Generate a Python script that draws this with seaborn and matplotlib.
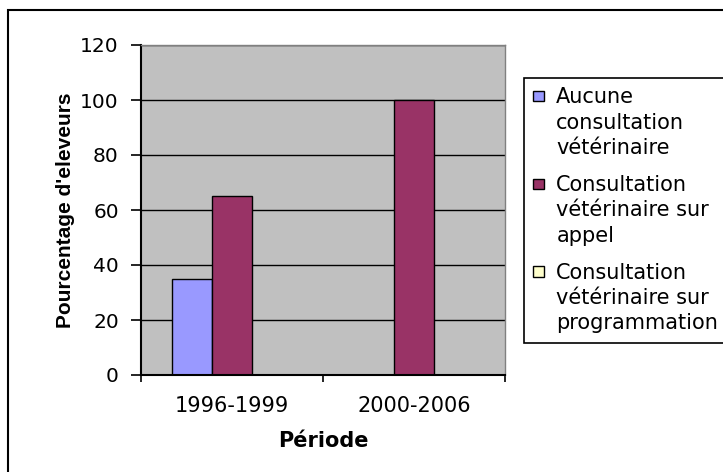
import pandas as pd
import matplotlib
matplotlib.use("Agg")
import matplotlib.pyplot as plt
import seaborn as sns
from matplotlib.patches import Rectangle
from matplotlib.legend_handler import HandlerPatch

# data
periodes = ["1996-1999", "2000-2006"]
aucune = [35, 0]
sur_appel = [65, 100]
sur_programmation = [0, 0]
series = ["Aucune consultation vétérinaire",
          "Consultation vétérinaire sur appel",
          "Consultation vétérinaire sur programmation"]
legend_labels = ["Aucune\nconsultation\nvétérinaire",
                 "Consultation\nvétérinaire sur\nappel",
                 "Consultation\nvétérinaire sur\nprogrammation"]
colors = ["#9999FF", "#993366", "#FFFFCC"]

df = pd.DataFrame({
    "Période": periodes * 3,
    "valeur": aucune + sur_appel + sur_programmation,
    "serie": [s for s in series for _ in periodes],
})


class TopSquare(HandlerPatch):
    """Small square handle aligned with the first line of a 3-line label."""
    def create_artists(self, legend, orig_handle, xdescent, ydescent,
                       width, height, fontsize, trans):
        s = 0.5 * fontsize
        y0 = -ydescent + height / 2 + 1.3 * fontsize - s / 2
        p = Rectangle((-xdescent, y0), s, s)
        self.update_prop(p, orig_handle, legend)
        p.set_transform(trans)
        return [p]


sns.set_style("white", {"text.color": "black", "axes.labelcolor": "black",
                        "xtick.color": "black", "ytick.color": "black"})
plt.rcParams["font.family"] = ["DejaVu Sans"]

fig = plt.figure(figsize=(7.23, 4.72), dpi=100)
ax = fig.add_axes([141 / 723, 1 - 375 / 472, 364 / 723, 330 / 472])
ax.set_facecolor("#C0C0C0")

sns.barplot(data=df, x="Période", y="valeur", hue="serie", hue_order=series,
            palette=colors, width=0.66, edgecolor="black", linewidth=1,
            saturation=1, ax=ax)

ax.set_ylim(0, 120)
ax.set_yticks(range(0, 121, 20))
ax.yaxis.grid(True, color="black", linewidth=1)
ax.set_axisbelow(True)
ax.set_xlim(-0.5, 1.5)

# category ticks between groups, like Excel
ax.set_xticks([-0.5, 0.5, 1.5], minor=True)
ax.tick_params(axis="x", which="major", length=0, labelsize=15, pad=15)
ax.tick_params(axis="x", which="minor", length=5, width=1.2, direction="out", bottom=True)
ax.tick_params(axis="y", length=7, width=1.2, direction="out", left=True, labelsize=14.5, pad=9)

ax.set_xlabel("Période", fontsize=15, fontweight="bold", labelpad=11)
ax.set_ylabel("Pourcentage d'eleveurs", fontsize=15, fontweight="bold", labelpad=4,
              family="Liberation Sans")

for side in ["left", "bottom"]:
    ax.spines[side].set_color("black")
    ax.spines[side].set_linewidth(1.5)
for side in ["top", "right"]:
    ax.spines[side].set_color("#808080")
    ax.spines[side].set_linewidth(1)

handles, _ = ax.get_legend_handles_labels()
ax.get_legend().remove()
leg = fig.legend(handles, legend_labels, loc="upper left",
                 bbox_to_anchor=(524 / 723, 1 - 78 / 472),
                 bbox_transform=fig.transFigure, fontsize=15,
                 frameon=True, fancybox=False, shadow=False,
                 edgecolor="black", framealpha=1, borderpad=0.45,
                 handlelength=0.5, handleheight=0.5, handletextpad=0.6,
                 labelspacing=0.82, borderaxespad=0,
                 handler_map={Rectangle: TopSquare()})
leg.get_frame().set_linewidth(1.2)
for t in leg.get_texts():
    t.set_linespacing(1.33)

# outer chart border (runs off the right and bottom edges)
fig.patches.append(Rectangle((8 / 723, -0.1), 1.2, 1 - 10 / 472 + 0.1,
                             transform=fig.transFigure, fill=False,
                             edgecolor="black", linewidth=1.5))

fig.savefig("out.png", dpi=100)
